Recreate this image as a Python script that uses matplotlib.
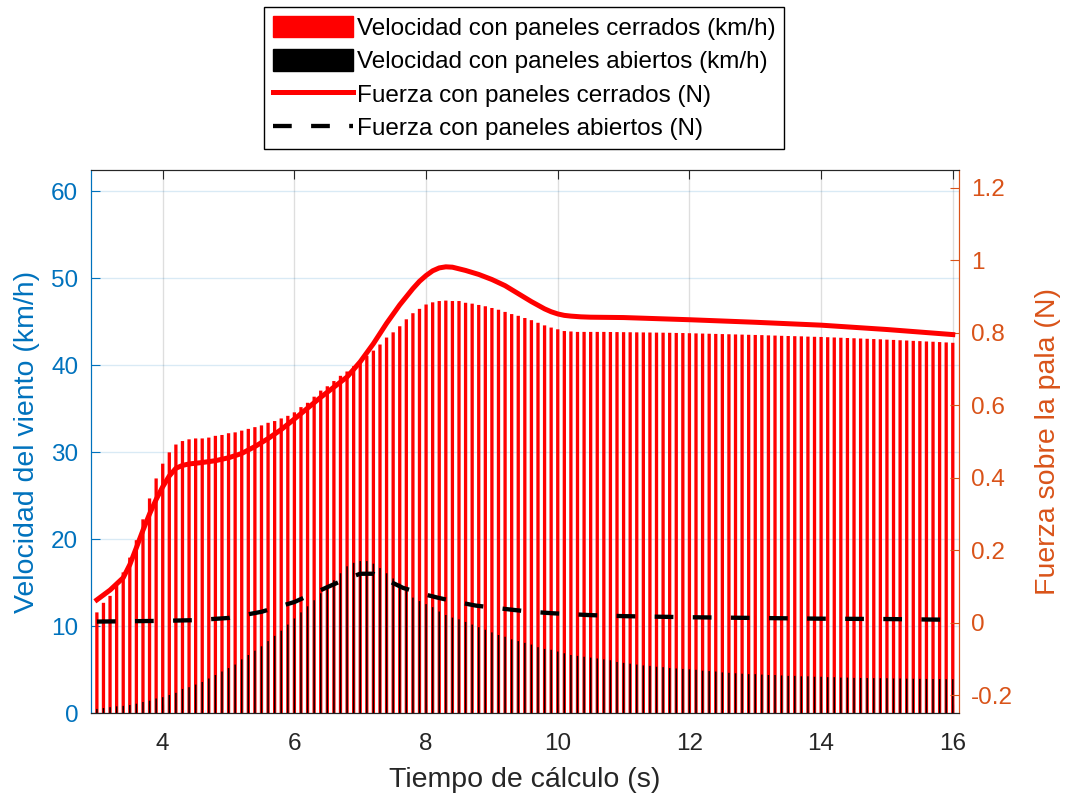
import numpy as np
import matplotlib
matplotlib.use('Agg')
import matplotlib.pyplot as plt
from matplotlib.patches import Patch
from matplotlib.lines import Line2D
from matplotlib.ticker import FormatStrFormatter

plt.rcParams['font.family'] = ['Liberation Sans', 'DejaVu Sans']
plt.rcParams['axes.unicode_minus'] = False

# time axis of the bars (s), every 0.1 s from 3.0 to 16.0
t = np.arange(30, 161) / 10

# wind speed with closed panels (km/h)
v_closed = [
    11.6, 12.7, 13.5, 14.7, 16.2, 17.9, 19.9, 22.3, 24.7, 27.0,
    28.7, 30.0, 30.9, 31.3, 31.5, 31.6, 31.6, 31.7, 31.9, 32.0,
    32.2, 32.3, 32.5, 32.7, 32.9, 33.1, 33.4, 33.6, 33.9, 34.2,
    34.6, 35.2, 35.7, 36.4, 37.1, 37.6, 38.2, 38.8, 39.3, 39.9,
    40.5, 41.1, 41.7, 42.4, 43.2, 43.8, 44.5, 45.3, 46.0, 46.5,
    47.0, 47.25, 47.4, 47.45, 47.4, 47.4, 47.2, 47.1, 46.95, 46.8,
    46.6, 46.4, 46.15, 45.9, 45.7, 45.45, 45.2, 44.9, 44.6, 44.35,
    44.15, 43.95, 43.9, 43.85, 43.85, 43.85, 43.85, 43.85, 43.84, 43.83,
    43.82, 43.81, 43.8, 43.79, 43.78, 43.77, 43.76, 43.75, 43.73, 43.72,
    43.7, 43.68, 43.66, 43.64, 43.62, 43.6, 43.58, 43.56, 43.54, 43.52,
    43.5, 43.48, 43.45, 43.43, 43.4, 43.38, 43.36, 43.34, 43.31, 43.29,
    43.27, 43.24, 43.21, 43.18, 43.15, 43.12, 43.09, 43.06, 43.03, 43.0,
    42.96, 42.93, 42.89, 42.86, 42.82, 42.79, 42.75, 42.72, 42.68, 42.64,
    42.6,
]

# wind speed with open panels (km/h)
v_open = [
    0.5, 0.6, 0.7, 0.8, 0.85, 0.95, 1.1, 1.3, 1.45, 1.7,
    1.85, 2.1, 2.35, 2.8, 3.0, 3.3, 3.6, 4.0, 4.4, 4.8,
    5.2, 5.6, 6.2, 6.7, 7.2, 7.7, 8.3, 8.9, 9.5, 10.2,
    10.9, 11.6, 12.3, 13.0, 13.8, 14.6, 15.3, 16.1, 16.9, 17.3,
    17.5, 17.5, 17.2, 16.7, 16.1, 15.5, 14.9, 14.1, 13.3, 12.9,
    12.55, 12.2, 11.7, 11.3, 11.0, 10.8, 10.5, 10.2, 9.9, 9.6,
    9.3, 9.0, 8.8, 8.5, 8.3, 8.1, 7.9, 7.6, 7.4, 7.3,
    7.1, 6.9, 6.7, 6.6, 6.5, 6.4, 6.3, 6.2, 6.1, 5.9,
    5.8, 5.7, 5.6, 5.5, 5.45, 5.35, 5.3, 5.2, 5.15, 5.1,
    5.05, 5.0, 4.9, 4.85, 4.8, 4.7, 4.65, 4.6, 4.55, 4.5,
    4.5, 4.45, 4.4, 4.4, 4.35, 4.3, 4.3, 4.25, 4.25, 4.2,
    4.2, 4.15, 4.15, 4.1, 4.1, 4.07, 4.06, 4.05, 4.04, 4.03,
    4.03, 4.0, 4.0, 3.98, 3.97, 3.96, 3.95, 3.94, 3.93, 3.92,
    3.92,
]

# force on the blade, closed panels (N)
tf_closed = [3.0, 3.2, 3.4, 3.5, 3.6, 3.7, 3.8, 3.9, 4.0, 4.1, 4.2, 4.3, 4.4,
             4.6, 4.8, 5.0, 5.2, 5.4, 5.6, 5.8, 6.0, 6.2, 6.4, 6.6, 6.8,
             7.0, 7.2, 7.4, 7.6, 7.8, 7.9, 8.0, 8.1, 8.2, 8.3, 8.4, 8.6,
             8.8, 9.0, 9.2, 9.4, 9.6, 9.8, 9.9, 10.0, 10.1, 10.2, 10.35,
             10.5, 11.0, 12.0, 13.0, 14.0, 15.0, 16.0]
f_closed = [0.063, 0.09, 0.124, 0.16, 0.207, 0.255, 0.30, 0.34, 0.375, 0.405,
            0.426, 0.434, 0.438, 0.442, 0.447, 0.455, 0.467, 0.486, 0.508,
            0.533, 0.562, 0.592, 0.622, 0.65, 0.678, 0.72, 0.77, 0.826,
            0.877, 0.922, 0.942, 0.958, 0.971, 0.979, 0.982, 0.981, 0.972,
            0.961, 0.947, 0.930, 0.908, 0.886, 0.866, 0.858, 0.852, 0.848,
            0.846, 0.844, 0.843, 0.842, 0.836, 0.829, 0.821, 0.809, 0.795]

# force on the blade, open panels (N)
tf_open = [3.0, 3.5, 4.0, 4.5, 5.0, 5.5, 6.0, 6.5, 6.8, 7.0, 7.2, 7.4, 7.65,
           8.0, 8.2, 8.5, 8.76, 9.0, 9.34, 9.6, 9.92, 10.47, 11.0, 12.0,
           13.0, 14.0, 15.0, 16.0]
f_open = [0.003, 0.004, 0.005, 0.007, 0.013, 0.03, 0.057, 0.098, 0.122,
          0.135, 0.135, 0.118, 0.096, 0.077, 0.068, 0.056, 0.047, 0.042,
          0.035, 0.030, 0.026, 0.021, 0.018, 0.015, 0.013, 0.011, 0.010,
          0.008]

blue = '#0072BD'
orange = '#D95319'
dark = '#262626'

fig = plt.figure(figsize=(10.67, 7.99), dpi=100)
ax = fig.add_axes([0.0850, 0.1073, 0.8135, 0.6803])
ax2 = ax.twinx()

ax.bar(t, v_closed, width=0.05, color='red', linewidth=0, snap=False)
ax.bar(t, v_open, width=0.022, color='black', linewidth=0, snap=False)

ax2.plot(tf_closed, f_closed, color='red', lw=3.6, solid_joinstyle='round')
ax2.plot(tf_open, f_open, color='black', lw=3.1, linestyle=(0, (4.35, 4.5)))

ax.set_xlim(2.906, 16.09)
ax.set_ylim(0, 62.5)
ax2.set_ylim(-0.25, 1.25)
ax.set_xticks([4, 6, 8, 10, 12, 14, 16])
ax.set_yticks([0, 10, 20, 30, 40, 50, 60])
ax2.set_yticks([-0.2, 0, 0.2, 0.4, 0.6, 0.8, 1.0, 1.2])
ax2.yaxis.set_major_formatter(FormatStrFormatter('%g'))

ax.set_axisbelow(True)
ax.grid(axis='x', color=dark, alpha=0.15, lw=1)
ax.grid(axis='y', color=blue, alpha=0.15, lw=1)

for a in (ax, ax2):
    a.spines['left'].set_color(blue)
    a.spines['right'].set_color(orange)
    a.spines['top'].set_color(dark)
    a.spines['bottom'].set_color(dark)
    for s in a.spines.values():
        s.set_linewidth(0.8)

ax.tick_params(axis='x', colors=dark, direction='in', top=True, length=6.5,
               width=0.8, labelsize=17.5, pad=14)
ax.tick_params(axis='y', colors=blue, direction='in', length=6.5,
               width=0.8, labelsize=17.5, pad=9)
ax2.tick_params(axis='y', colors=orange, direction='in', length=6.5,
                width=0.8, labelsize=17.5, pad=9)

ax.set_xlabel('Tiempo de cálculo (s)', fontsize=20.5, color=dark, labelpad=9)
ax.set_ylabel('Velocidad del viento (km/h)', fontsize=20.5, color=blue, labelpad=8)
ax2.set_ylabel('Fuerza sobre la pala (N)', fontsize=20.5, color=orange, labelpad=16)

handles = [Patch(color='red'), Patch(color='black'),
           Line2D([], [], color='red', lw=3.6),
           Line2D([], [], color='black', lw=3.1, linestyle=(0, (4.35, 4.5)))]
labels = ['Velocidad con paneles cerrados (km/h)',
          'Velocidad con paneles abiertos (km/h)',
          'Fuerza con paneles cerrados (N)',
          'Fuerza con paneles abiertos (N)']
leg = fig.legend(handles, labels, loc='upper center', bbox_to_anchor=(0.491, 0.991),
                 fontsize=17.5, frameon=True, fancybox=False, edgecolor='black',
                 framealpha=1, handlelength=3.3, handleheight=1.0,
                 labelspacing=0.38, handletextpad=0.15, borderpad=0.35,
                 borderaxespad=0)
leg.get_frame().set_linewidth(1)

fig.savefig('out.png', dpi=100)
